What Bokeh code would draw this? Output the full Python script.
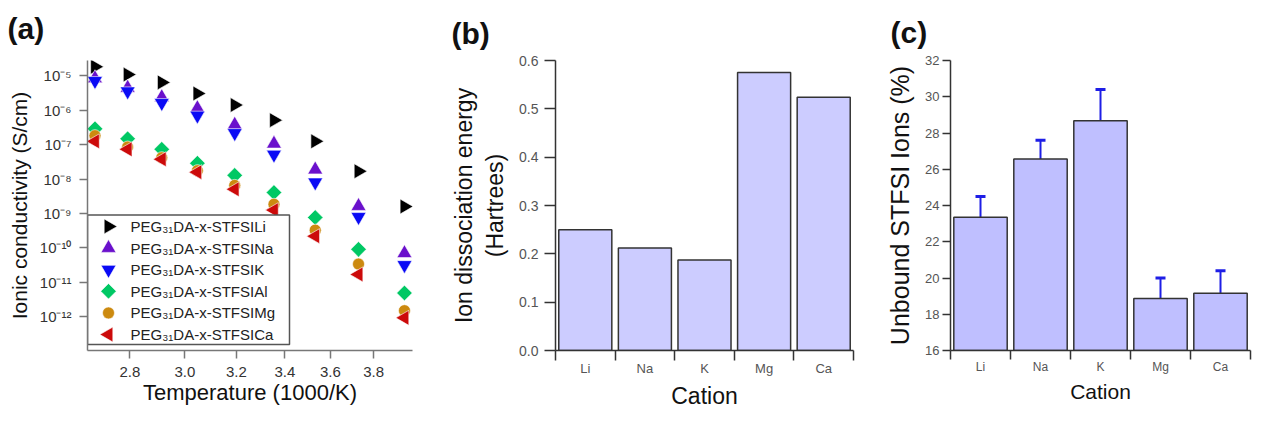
import numpy as np
from bokeh.plotting import figure
from bokeh.layouts import row
from bokeh.models import (FixedTicker, CustomJSTickFormatter, Whisker, TeeHead, Title,
                          ColumnDataSource, Range1d, LinearScale)
from bokeh.core.properties import value
from bokeh.embed import file_html
from bokeh.resources import INLINE

# ---------------- data ----------------
inv_T = [2.680, 2.792, 2.914, 3.047, 3.193, 3.354, 3.532, 3.729, 3.950]
sigma_Li = [1.86e-5, 1.1e-5, 6.5e-6, 3.1e-6, 1.43e-6, 5.2e-7, 1.26e-7, 1.7e-8, 1.6e-9]
sigma_Na = [8.5e-6, 4.5e-6, 2.4e-6, 1.15e-6, 3.8e-7, 1.07e-7, 1.9e-8, 1.65e-9, 7e-11]
sigma_K = [7.2e-6, 3.6e-6, 1.65e-6, 7.1e-7, 2.2e-7, 5.2e-8, 8.1e-9, 8e-10, 3.2e-11]
sigma_Al = [2.9e-7, 1.5e-7, 7.4e-8, 2.9e-8, 1.29e-8, 4.1e-9, 7.7e-10, 9.1e-11, 4.9e-12]
sigma_Mg = [1.84e-7, 8.6e-8, 4.2e-8, 1.77e-8, 6.6e-9, 1.86e-9, 3.3e-10, 3.4e-11, 1.5e-12]
sigma_Ca = [1.26e-7, 7.4e-8, 3.8e-8, 1.6e-8, 5.1e-9, 1.26e-9, 2.2e-10, 1.7e-11, 9.3e-13]
series_labels = ["PEG₃₁DA-x-STFSILi", "PEG₃₁DA-x-STFSINa", "PEG₃₁DA-x-STFSIK",
                 "PEG₃₁DA-x-STFSIAl", "PEG₃₁DA-x-STFSIMg", "PEG₃₁DA-x-STFSICa"]
x_ticks_a = [2.8, 3.0, 3.2, 3.4, 3.6, 3.8]
y_ticks_a = [1e-12, 1e-11, 1e-10, 1e-9, 1e-8, 1e-7, 1e-6, 1e-5]

cations = ["Li", "Na", "K", "Mg", "Ca"]
diss_energy = [0.250, 0.212, 0.187, 0.575, 0.524]
unbound = [23.35, 26.56, 28.67, 18.87, 19.16]
unbound_hi = [24.5, 27.6, 30.4, 20.0, 20.4]
unbound_lo = [22.3, 25.6, 27.0, 17.8, 18.0]

FONT = "Liberation Sans"
H = 411
TOP = 60
BOT = 60
FH = H - TOP - BOT


def style_common(p, tick_color):
    p.outline_line_color = None
    p.xgrid.visible = False
    p.ygrid.visible = False
    p.background_fill_color = "white"
    p.border_fill_color = "white"
    for ax in (p.xaxis[0], p.yaxis[0]):
        ax.axis_label_text_font = FONT
        ax.axis_label_text_font_style = "normal"
        ax.axis_label_text_color = "#111111"
        ax.major_label_text_font = FONT
        ax.major_label_text_color = tick_color
        ax.minor_tick_line_color = None
        ax.major_tick_in = 0


def panel_title(p, text, offset, lift):
    p.add_layout(Title(text=text, align="left", vertical_align="bottom", offset=offset,
                       padding=dict(left=0, right=0, top=0, bottom=lift),
                       text_font=FONT, text_font_size="30px",
                       text_font_style="bold", text_color="#111111"), "above")


# ---------------- panel (a) ----------------
WA, LA, FWA = 432, 87, 325
pa = figure(width=WA, height=H, x_axis_type="log", y_axis_type="log",
            x_range=Range1d(2.655, 3.99), y_range=Range1d(10 ** -12.981, 10 ** -4.55),
            min_border_left=LA, min_border_right=WA - LA - FWA,
            min_border_top=TOP, min_border_bottom=BOT,
            output_backend="svg", toolbar_location=None)
style_common(pa, "#333333")
pa.extra_x_ranges = {"px": Range1d(0, FWA)}
pa.extra_y_ranges = {"py": Range1d(0, FH)}
pa.extra_x_scales = {"px": LinearScale()}
pa.extra_y_scales = {"py": LinearScale()}

specs = [
    (sigma_Li, "triangle", -np.pi / 2, 15, "#000000"),
    (sigma_Na, "triangle", 0.0, 15, "#6A10CC"),
    (sigma_K, "inverted_triangle", 0.0, 15, "#0A0AF5"),
    (sigma_Al, "square", np.pi / 4, 11, "#00C864"),
    (sigma_Mg, "circle", 0.0, 12, "#CC8A10"),
    (sigma_Ca, "triangle", np.pi / 2, 15, "#CC0A0A"),
]
for vals, mk, ang, sz, col in specs:
    pa.scatter(inv_T, vals, marker=mk, angle=ang, size=sz, fill_color=col,
               line_color="white", line_width=0.6)

# legend box (drawn in frame pixel units)
pa.quad(left=0, right=202, bottom=6, top=136, fill_color="white", line_color="#555555",
        line_width=1.5, x_range_name="px", y_range_name="py")
row_top, row_step = 124.5, 21.7
for i, ((vals, mk, ang, sz, col), lab) in enumerate(zip(specs, series_labels)):
    yy = row_top - i * row_step
    pa.scatter([21], [yy], marker=mk, angle=ang, size=sz, fill_color=col,
               line_color="white", line_width=0.6, x_range_name="px", y_range_name="py")
    pa.text([43], [yy], text=[lab], text_font=value(FONT), text_font_size="15px",
            text_color="#222222", text_baseline="middle", text_align="left",
            x_range_name="px", y_range_name="py")

pa.xaxis.ticker = FixedTicker(ticks=x_ticks_a, minor_ticks=[])
pa.xaxis.formatter = CustomJSTickFormatter(code="return tick.toFixed(1);")
pa.yaxis.ticker = FixedTicker(ticks=y_ticks_a, minor_ticks=[])
pa.yaxis.formatter = CustomJSTickFormatter(code="""
const sup = {"0":"⁰","1":"¹","2":"²","3":"³","4":"⁴","5":"⁵","6":"⁶","7":"⁷","8":"⁸","9":"⁹","-":"⁻"};
const e = Math.round(Math.log10(tick)).toString();
let s = "";
for (const c of e) { s += sup[c]; }
return "10" + s;
""")
for ax in (pa.xaxis[0], pa.yaxis[0]):
    ax.axis_line_color = "#777777"
    ax.axis_line_width = 1.5
    ax.major_tick_line_color = "#777777"
    ax.major_tick_line_width = 1.5
    ax.major_tick_out = 8
    ax.major_label_text_font_size = "15px"
pa.xaxis.axis_label = "Temperature (1000/K)"
pa.xaxis.axis_label_text_font_size = "22px"
pa.xaxis.major_label_standoff = 8
pa.xaxis.axis_label_standoff = 0
pa.yaxis.axis_label = "Ionic conductivity (S/cm)"
pa.yaxis.axis_label_text_font_size = "21px"
pa.yaxis.major_label_standoff = 8
pa.yaxis.axis_label_standoff = 6
panel_title(pa, "(a)", -80, 11)

# ---------------- panel (b) ----------------
centers = [i + 0.5 for i in range(len(cations))]
bounds = list(range(len(cations) + 1))


def bar_axes(p, yticks, yfmt):
    p.xaxis.ticker = FixedTicker(ticks=centers, minor_ticks=bounds)
    p.xaxis.major_label_overrides = {c: n for c, n in zip(centers, cations)}
    p.xaxis.major_tick_out = 0
    p.xaxis.minor_tick_line_color = "#333333"
    p.xaxis.minor_tick_line_width = 1.5
    p.xaxis.minor_tick_in = 0
    p.xaxis.major_label_standoff = 0
    p.yaxis.ticker = FixedTicker(ticks=yticks, minor_ticks=[])
    p.yaxis.formatter = CustomJSTickFormatter(code=yfmt)
    for ax in (p.xaxis[0], p.yaxis[0]):
        ax.axis_line_color = "#333333"
        ax.axis_line_width = 1.5
        ax.major_tick_line_color = "#333333"
        ax.major_tick_line_width = 1.5
    p.xaxis.axis_label = "Cation"


WB, LB, FWB = 440, 123, 298
pb = figure(width=WB, height=H, x_range=Range1d(0, 5), y_range=Range1d(0, 0.6),
            min_border_left=LB, min_border_right=WB - LB - FWB,
            min_border_top=TOP, min_border_bottom=BOT,
            output_backend="svg", toolbar_location=None)
style_common(pb, "#555555")
pb.vbar(x=centers, top=diss_energy, width=0.89, bottom=0, fill_color="#CCCCFF",
        line_color="#333333", line_width=1.5)
bar_axes(pb, [0.0, 0.1, 0.2, 0.3, 0.4, 0.5, 0.6], "return tick.toFixed(1);")
pb.xaxis.minor_tick_out = 10
pb.xaxis.major_label_text_font_size = "13px"
pb.xaxis.axis_label_text_font_size = "23px"
pb.xaxis.axis_label_standoff = 4
pb.yaxis.major_tick_out = 11
pb.yaxis.major_label_standoff = 6
pb.yaxis.major_label_text_font_size = "14px"
pb.yaxis.axis_label = "Ion dissociation energy\n(Hartrees)"
pb.yaxis.axis_label_text_font_size = "23px"
pb.yaxis.axis_label_standoff = 8
panel_title(pb, "(b)", -104, 6)

# ---------------- panel (c) ----------------
WC, LC, FWC = 380, 78, 300
pc = figure(width=WC, height=H, x_range=Range1d(0, 5), y_range=Range1d(16, 32),
            min_border_left=LC, min_border_right=WC - LC - FWC,
            min_border_top=TOP, min_border_bottom=BOT,
            output_backend="svg", toolbar_location=None)
style_common(pc, "#555555")
pc.vbar(x=centers, top=unbound, width=0.89, bottom=16, fill_color="#BFBFFF",
        line_color="#333333", line_width=1.5)
src = ColumnDataSource(dict(x=centers, upper=unbound_hi, lower=unbound_lo))
ecol = "#1E1EE6"
pc.add_layout(Whisker(source=src, base="x", upper="upper", lower="lower", dimension="height",
                      line_color=ecol, line_width=2,
                      upper_head=TeeHead(size=10, line_color=ecol, line_width=3),
                      lower_head=TeeHead(size=10, line_color=ecol, line_width=3)))
bar_axes(pc, [16, 18, 20, 22, 24, 26, 28, 30, 32], "return tick.toFixed(0);")
pc.xaxis.minor_tick_out = 9
pc.xaxis.major_label_text_font_size = "12px"
pc.xaxis.axis_label_text_font_size = "21px"
pc.xaxis.axis_label_standoff = 3
pc.yaxis.major_tick_out = 8
pc.yaxis.major_label_standoff = 3
pc.yaxis.major_label_text_font_size = "13px"
pc.yaxis.axis_label = "Unbound STFSI Ions (%)"
pc.yaxis.axis_label_text_font_size = "25px"
pc.yaxis.axis_label_standoff = 8
panel_title(pc, "(c)", -60, 7)

layout = row(pa, pb, pc)
open("out.html", "w").write(file_html(layout, INLINE))
